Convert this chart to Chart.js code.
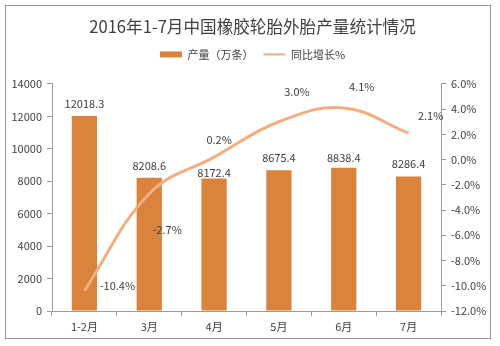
<!DOCTYPE html>
<html>
<head>
<meta charset="utf-8">
<script src="https://cdn.jsdelivr.net/npm/chart.js@4/dist/chart.umd.min.js"></script>
<style>
  html, body { margin: 0; padding: 0; background: #fff; }
  #wrap { position: relative; width: 500px; height: 346px; }
  #frame { position: absolute; left: 5px; top: 5px; width: 486px; height: 334px; border: 1px solid #9a9a9a; box-sizing: border-box; }
  canvas { position: absolute; left: 0; top: 0; }
</style>
</head>
<body>
<div id="wrap">
  <div id="frame"></div>
  <canvas id="c" width="500" height="346"></canvas>
</div>
<script>
const titleText = '2016年1-7月中国橡胶轮胎外胎产量统计情况';
const categories = ['1-2月', '3月', '4月', '5月', '6月', '7月'];
const outputName = '产量（万条）';
const outputValues = [12018.3, 8208.6, 8172.4, 8675.4, 8838.4, 8286.4];
const growthName = '同比增长%';
const growthValues = [-10.4, -2.7, 0.2, 3.0, 4.1, 2.1];
const leftTicks = [0, 2000, 4000, 6000, 8000, 10000, 12000, 14000];
const rightTicks = [-12, -10, -8, -6, -4, -2, 0, 2, 4, 6];

const FONT = '"Noto Sans CJK SC", "Noto Sans", sans-serif';
const BAR = '#D9833D';
const LINE = '#F2AE80';
const TXT = '#404040';
const AXIS = '#9a9a9a';

// label placement (style, not data)
const barLabelGap = [11, 11, 5, 11, 9, 12];
const lineLabelOffset = [[33, -5], [18, 36], [5, -17], [18, -30], [18, -21], [22, -17]];

const labelPlugin = {
  id: 'valueLabels',
  afterDatasetsDraw(chart) {
    const ctx = chart.ctx;
    ctx.save();
    ctx.font = '11px ' + FONT;
    ctx.fillStyle = TXT;
    ctx.textAlign = 'center';
    ctx.textBaseline = 'middle';
    const barMeta = chart.getDatasetMeta(0);
    barMeta.data.forEach((el, i) => {
      ctx.fillText(outputValues[i].toFixed(1), el.x, el.y - barLabelGap[i] - 1);
    });
    const lineMeta = chart.getDatasetMeta(1);
    lineMeta.data.forEach((el, i) => {
      const o = lineLabelOffset[i];
      ctx.fillText(growthValues[i].toFixed(1) + '%', el.x + o[0], el.y + o[1]);
    });
    ctx.restore();
  }
};

const legendSpacer = {
  id: 'legendSpacer',
  beforeInit(chart) {
    const fit = chart.legend.fit;
    chart.legend.fit = function () {
      fit.bind(chart.legend)();
      this.height += 14;
    };
  }
};

new Chart(document.getElementById('c'), {
  data: {
    labels: categories,
    datasets: [
      {
        type: 'bar',
        label: outputName,
        data: outputValues,
        backgroundColor: BAR,
        yAxisID: 'y',
        categoryPercentage: 1.0,
        barPercentage: 0.39,
        order: 2
      },
      {
        type: 'line',
        label: growthName,
        data: growthValues,
        borderColor: LINE,
        backgroundColor: LINE,
        borderWidth: 3,
        pointRadius: 0,
        tension: 0.4,
        yAxisID: 'y1',
        order: 1
      }
    ]
  },
  options: {
    responsive: false,
    animation: false,
    devicePixelRatio: 1,
    layout: { padding: { left: 5, right: 0, top: 0, bottom: 7 } },
    plugins: {
      title: {
        display: true,
        text: titleText,
        color: TXT,
        font: { family: FONT, size: 16.6, weight: 'normal' },
        padding: { top: 17, bottom: 2 }
      },
      legend: {
        display: true,
        labels: {
          color: TXT,
          font: { family: FONT, size: 11 },
          usePointStyle: true,
          pointStyleWidth: 22,
          boxWidth: 22,
          boxHeight: 6,
          padding: 10,
          generateLabels(chart) {
            return [
              { text: outputName, fillStyle: BAR, strokeStyle: BAR, lineWidth: 0, pointStyle: 'rect', datasetIndex: 0, fontColor: TXT },
              { text: growthName, fillStyle: LINE, strokeStyle: LINE, lineWidth: 2, pointStyle: 'line', datasetIndex: 1, fontColor: TXT }
            ];
          }
        }
      },
      tooltip: { enabled: false }
    },
    scales: {
      x: {
        offset: true,
        grid: { display: true, offset: true, drawOnChartArea: false, drawTicks: true, tickLength: 5, color: AXIS },
        border: { display: true, color: AXIS },
        ticks: { color: TXT, font: { family: FONT, size: 11 }, padding: 4, maxRotation: 0 },
        afterFit(s) { s.height = 28; }
      },
      y: {
        position: 'left',
        min: 0, max: 14000,
        afterBuildTicks(s) { s.ticks = leftTicks.map(v => ({ value: v })); },
        grid: { display: true, drawOnChartArea: false, drawTicks: true, tickLength: 5, color: AXIS },
        border: { display: true, color: AXIS },
        ticks: { color: TXT, font: { family: FONT, size: 11 }, padding: 5, callback: v => String(v) },
        afterFit(s) { s.width = 47; }
      },
      y1: {
        position: 'right',
        min: -12, max: 6,
        afterBuildTicks(s) { s.ticks = rightTicks.map(v => ({ value: v })); },
        grid: { display: true, drawOnChartArea: false, drawTicks: true, tickLength: 5, color: AXIS },
        border: { display: true, color: AXIS },
        ticks: { color: TXT, font: { family: FONT, size: 11 }, padding: 5, callback: v => v.toFixed(1) + '%' },
        afterFit(s) { s.width = 59; }
      }
    }
  },
  plugins: [legendSpacer, labelPlugin]
});
</script>
</body>
</html>
